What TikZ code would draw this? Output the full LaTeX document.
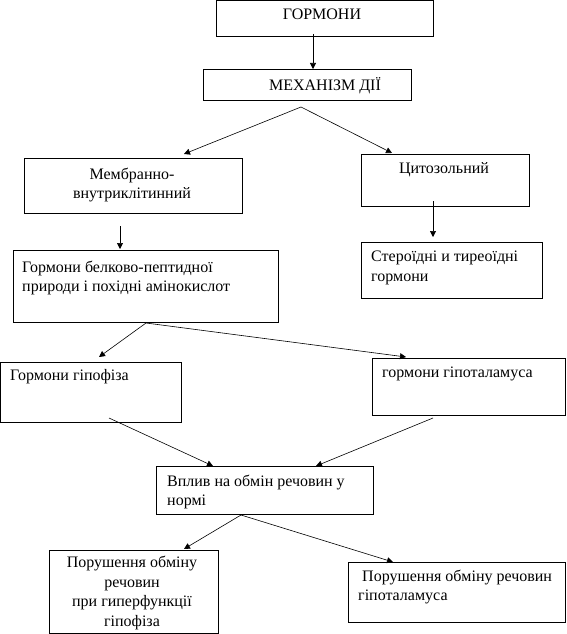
\documentclass[tikz,border=0pt]{standalone}
\usepackage{fontspec}
\setmainfont{Liberation Serif}
\usetikzlibrary{arrows.meta}
\begin{document}
\begin{tikzpicture}[x=1pt,y=-1pt,
  box/.style={draw=black,line width=0.9pt,inner sep=0pt},
  txt/.style={inner sep=0pt,font=\fontsize{16}{19.5}\selectfont},
  ltxt/.style={txt,anchor=west,align=left},
  ctxt/.style={txt,align=center},
  arr/.style={draw=black,line width=0.6pt,-{Triangle[length=6pt,width=6pt]}}]
\useasboundingbox (0,0) rectangle (566,634);
% boxes
\node[box,minimum width=217pt,minimum height=36pt] (b1) at (324.5,18) {};
\node[box,minimum width=208pt,minimum height=31pt] (b2) at (307,84.5) {};
\node[box,minimum width=218pt,minimum height=55pt] (b3) at (133,185.5) {};
\node[box,minimum width=168pt,minimum height=52pt] (b4) at (445,180) {};
\node[box,minimum width=265pt,minimum height=72pt] (b5) at (145.5,286) {};
\node[box,minimum width=181pt,minimum height=56pt] (b6) at (451.5,270) {};
\node[box,minimum width=180.5pt,minimum height=60pt] (b7) at (90.75,392) {};
\node[box,minimum width=193pt,minimum height=57pt] (b8) at (468.5,386.5) {};
\node[box,minimum width=217pt,minimum height=48pt] (b9) at (264.5,490) {};
\node[box,minimum width=169pt,minimum height=83pt] (b10) at (133.5,591.5) {};
\node[box,minimum width=217pt,minimum height=60pt] (b11) at (456.5,592) {};
% texts
\node[ctxt] (t1) at (322,14) {ГОРМОНИ};
\node[ctxt] (t2) at (325,86) {МЕХАНІЗМ ДІЇ};
\node[ctxt] (t3) at (132,185) {Мембранно-\\внутриклітинний};
\node[ctxt] (t4) at (444,170) {Цитозольний};
\node[ltxt] (t5) at (22,278) {Гормони белково-пептидної\\природи і похідні амінокислот};
\node[ltxt] (t6) at (371,268) {Стероїдні и тиреоїдні\\гормони};
\node[ltxt] (t7) at (10,377) {Гормони гіпофіза};
\node[ltxt] (t8) at (382,374) {гормони гіпоталамуса};
\node[ltxt] (t9) at (167,492) {Вплив на обмін речовин у\\нормі};
\node[ctxt] (t10) at (132,593) {Порушення обміну\\речовин\\при гиперфункції\\гіпофіза};
\node[ltxt] (t11) at (358,587) {\ Порушення обміну речовин\\гіпоталамуса};
% connector points
\coordinate (p1) at (313,34);
\coordinate (p2) at (301,107);
\coordinate (p3) at (433,201);
\coordinate (p4) at (120,226);
\coordinate (p5) at (146,323);
\coordinate (p7) at (109,418);
\coordinate (p8) at (433,418);
\coordinate (p9) at (241,515);
\coordinate (e2) at (313,69);
\coordinate (e3a) at (184,154);
\coordinate (e3b) at (392,153);
\coordinate (e6) at (433,237);
\coordinate (e5) at (120,249);
\coordinate (e7) at (99,357);
\coordinate (e8) at (406,357);
\coordinate (e9a) at (213,466);
\coordinate (e9b) at (316,466);
\coordinate (e10) at (184,549);
\coordinate (e11) at (393,562);
\draw[arr] (p1) -- (e2);
\draw[arr] (p2) -- (e3a);
\draw[arr] (p2) -- (e3b);
\draw[arr] (p3) -- (e6);
\draw[arr] (p4) -- (e5);
\draw[arr] (p5) -- (e7);
\draw[arr] (p5) -- (e8);
\draw[arr] (p7) -- (e9a);
\draw[arr] (p8) -- (e9b);
\draw[arr] (p9) -- (e10);
\draw[arr] (p9) -- (e11);
\end{tikzpicture}
\end{document}
